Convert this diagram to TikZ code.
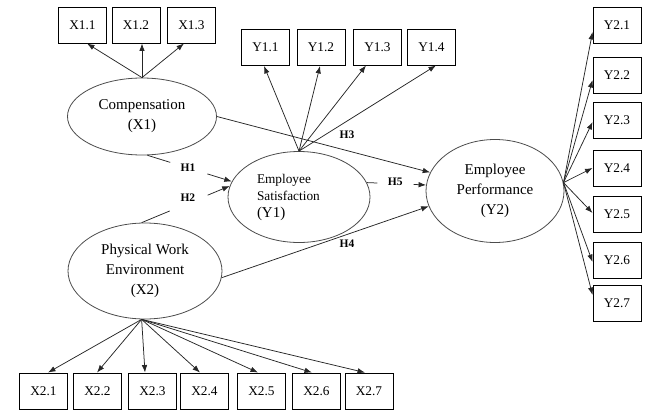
\documentclass[tikz,border=0pt]{standalone}
\usepackage{fontspec}
\setmainfont{Liberation Serif}
\usetikzlibrary{shapes.geometric,arrows.meta,calc}
\begin{document}
\begin{tikzpicture}[x=1pt,y=-1pt,
  ind/.style={draw=black, line width=0.9pt, minimum width=48pt, minimum height=36pt, inner sep=0pt, font=\fontsize{13.3}{14}\selectfont},
  lat/.style={ellipse, draw=black!70, line width=0.8pt, inner sep=0pt, align=center, font=\fontsize{15}{20}\selectfont},
  arr/.style={draw=black!85, line width=0.75pt, -{Latex[length=7.5pt,width=5.5pt]}},
  seg/.style={draw=black!85, line width=0.75pt},
  hyp/.style={font=\fontsize{11.5}{12}\selectfont\bfseries, inner sep=1pt}]
\useasboundingbox (0,0) rectangle (645,410);

% indicator boxes
\node[ind] (X11) at (82.5,25) {X1.1};
\node[ind] (X12) at (136,25) {X1.2};
\node[ind] (X13) at (191.5,25) {X1.3};

\node[ind] (Y11) at (265.5,47.5) {Y1.1};
\node[ind] (Y12) at (321,47.5) {Y1.2};
\node[ind] (Y13) at (377.5,47) {Y1.3};
\node[ind] (Y14) at (431.5,47) {Y1.4};

\node[ind] (Y21) at (617,25) {Y2.1};
\node[ind] (Y22) at (617,75) {Y2.2};
\node[ind] (Y23) at (617,120.5) {Y2.3};
\node[ind] (Y24) at (617,168.5) {Y2.4};
\node[ind] (Y25) at (617,214.5) {Y2.5};
\node[ind] (Y26) at (617,260) {Y2.6};
\node[ind] (Y27) at (617,303.5) {Y2.7};

\node[ind] (X21) at (43.5,391) {X2.1};
\node[ind] (X22) at (97.5,391) {X2.2};
\node[ind] (X23) at (152.5,391) {X2.3};
\node[ind] (X24) at (204.5,391) {X2.4};
\node[ind] (X25) at (261.5,391) {X2.5};
\node[ind] (X26) at (316.5,391) {X2.6};
\node[ind] (X27) at (369,391) {X2.7};

% latent variables
\node[lat, minimum width=149pt, minimum height=77pt] (Comp) at (142,116.5) {Compensation\\(X1)};
\node[lat, minimum width=154pt, minimum height=96pt] (PWE) at (145,271) {Physical Work\\Environment\\(X2)};
\node[lat, minimum width=138pt, minimum height=103pt] (EP) at (495,191) {Employee\\Performance\\(Y2)};
\node[lat, minimum width=142pt, minimum height=91pt, align=left, text width=84pt,
      font=\fontsize{13.3}{17}\selectfont] (ES) at (299,197)
      {Employee\\Satisfaction\\{\fontsize{15}{17}\selectfont (Y1)}};

% connection points
\coordinate (c1) at (Comp.-82);
\coordinate (e1) at (ES.167);
\coordinate (p2) at (PWE.94);
\coordinate (e2) at (ES.171);
\coordinate (c3) at (Comp.0);
\coordinate (q3) at (EP.164);
\coordinate (p4) at (PWE.-5);
\coordinate (q4) at (EP.193);
\coordinate (e5) at (ES.12);
\coordinate (q5) at (EP.175);

% H4 label (its white box hides part of the ellipse outline)
\node[hyp, fill=white, inner xsep=8pt, inner ysep=8pt, text depth=0pt] (H4box) at ($(p4)!0.605!(q4)+(0,9)$) {};
\node[hyp] (H4) at ($(p4)!0.605!(q4)+(0,9)$) {H4};

% Comp indicators
\draw[arr] (Comp.north) -- ($(X11.south)+(4.5,0)$);
\draw[arr] (Comp.north) -- ($(X12.south)+(6,0)$);
\draw[arr] (Comp.north) -- ($(X13.south)+(-7.5,0)$);

% ES indicators
\draw[arr] (ES.north) -- ($(Y11.south)+(-1.5,0)$);
\draw[arr] (ES.north) -- ($(Y12.south)+(-1,0)$);
\draw[arr] (ES.north) -- ($(Y13.south)+(-11.5,0)$);
\draw[arr] (ES.north) -- ($(Y14.south)+(4.5,0)$);

% EP indicators
\coordinate (eo) at (EP.7);
\draw[arr] (eo) -- ($(Y21.west)+(0,7)$);
\draw[arr] (eo) -- ($(Y22.west)+(0,5)$);
\draw[arr] (eo) -- ($(Y23.west)+(0,1.5)$);
\draw[arr] (eo) -- ($(Y24.west)+(0,-0.5)$);
\draw[arr] (eo) -- ($(Y25.west)+(0,-1.5)$);
\draw[arr] (eo) -- ($(Y26.west)+(0,2)$);
\draw[arr] (eo) -- ($(Y27.west)+(0,-8.5)$);

% PWE indicators
\coordinate (po) at (PWE.-94);
\draw[arr] (po) -- ($(X21.north)+(4.5,0)$);
\draw[arr] (po) -- ($(X22.north)+(-0.5,0)$);
\draw[arr] (po) -- ($(X23.north)+(-7.5,0)$);
\draw[arr] (po) -- ($(X24.north)+(-4.5,0)$);
\draw[arr] (po) -- ($(X25.north)+(-3.5,0)$);
\draw[arr] (po) -- ($(X26.north)+(-4.5,0)$);
\draw[arr] (po) -- ($(X27.north)+(-4,0)$);

% H1
\draw[seg] (c1) -- ($(c1)!0.27!(e1)$);
\draw[arr] ($(c1)!0.71!(e1)$) -- (e1);
\node[hyp] (H1) at ($(c1)!0.48!(e1)$) {H1};

% H2
\draw[seg] (p2) -- ($(p2)!0.32!(e2)$);
\draw[arr] ($(p2)!0.75!(e2)$) -- (e2);
\node[hyp] (H2) at ($(p2)!0.525!(e2)+(0,-5.5)$) {H2};

% H3
\draw[arr] (c3) -- (q3);
\node[hyp] (H3) at ($(c3)!0.61!(q3)+(0,-16)$) {H3};

% H4
\draw[arr] (p4) -- (q4);

% H5
\draw[seg] (e5) -- ($(e5)!0.18!(q5)$);
\draw[arr] ($(e5)!0.79!(q5)$) -- (q5);
\node[hyp] (H5) at ($(e5)!0.48!(q5)+(0,-2)$) {H5};

\end{tikzpicture}
\end{document}
